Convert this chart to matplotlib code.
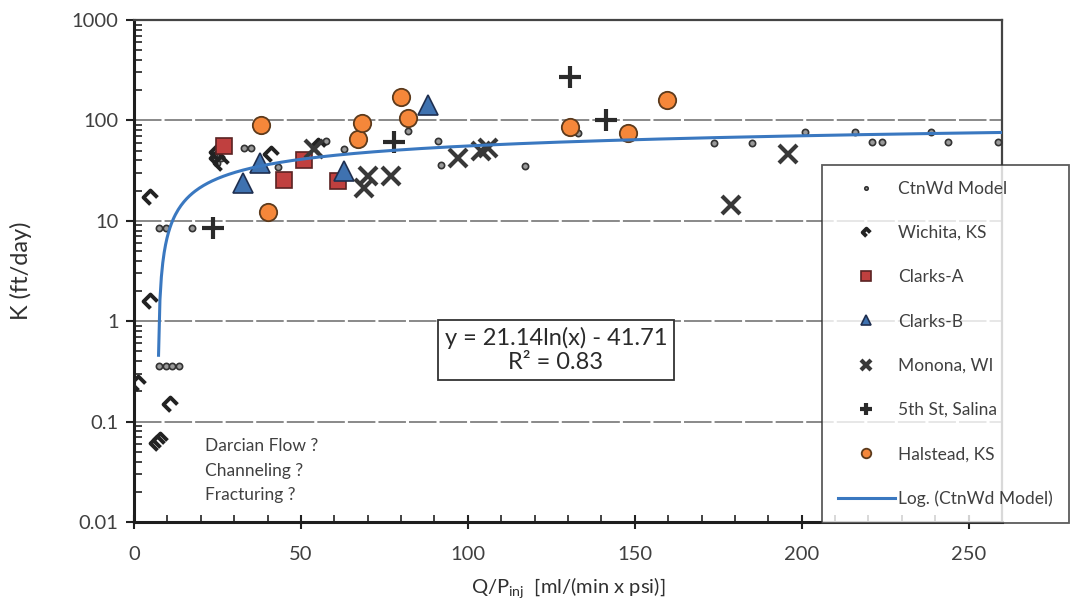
import numpy as np
import matplotlib
matplotlib.use("Agg")
import matplotlib.pyplot as plt
from matplotlib.path import Path
from matplotlib.ticker import FixedLocator, LogLocator, NullFormatter

plt.rcParams['font.family'] = ['Lato', 'DejaVu Sans']

# data (x = Q/P_inj, y = K ft/day)
ctnwd_x = [7.5, 9.5, 11.5, 13.5, 7.5, 9.5, 17.4, 24, 25, 26, 33, 35, 43, 57.5,
           63, 82, 91, 92, 117, 133, 173.6, 185, 201, 216, 221, 224, 238.6, 243.7, 258.7]
ctnwd_y = [0.36, 0.36, 0.36, 0.36, 8.5, 8.5, 8.5, 45, 38, 42, 53, 53, 34, 62,
           52, 78, 62, 36, 35, 75, 59, 59, 76, 76, 61, 61, 76, 61, 61]

wichita_x = [4.8, 4.8, 1.2, 10.8, 7.0, 7.8, 25, 25, 26, 41, 55]
wichita_y = [17.2, 1.6, 0.24, 0.15, 0.061, 0.065, 48, 42, 38, 46, 55]

clarks_a_x = [27, 45, 51, 61]
clarks_a_y = [56, 25.5, 40, 25]

clarks_b_x = [32.7, 37.8, 63, 88]
clarks_b_y = [24, 38, 31, 141]

monona_x = [54, 69, 70, 77, 97, 104, 106, 178.7, 196]
monona_y = [52, 21, 28, 28, 42, 50, 53, 14.3, 46]

salina_x = [23.7, 78, 130.7, 141.5]
salina_y = [8.4, 61, 270, 100]

halstead_x = [38, 40, 67, 68.3, 80, 82, 130.7, 148, 159.8]
halstead_y = [89, 12.2, 66, 94, 170, 105, 86, 75, 158]

# log trendline of the CtnWd model, as printed on the chart
fit_a, fit_b = 21.14, -41.71
fit_x0, fit_x1 = 7.35, 260

x_ticks = [0, 50, 100, 150, 200, 250]
y_ticks = [0.01, 0.1, 1, 10, 100, 1000]
y_labels = ['0.01', '0.1', '1', '10', '100', '1000']

# open bracket marker used for Wichita
bracket = Path([(1, 0), (0, 1), (-1, 0), (0, -1)],
               [Path.MOVETO, Path.LINETO, Path.LINETO, Path.LINETO])

fig = plt.figure(figsize=(10.87, 6.06), dpi=100)
ax = fig.add_axes([134/1087, 1-522/606, 868/1087, 502/606])

ax.set_yscale('log')
ax.set_xlim(0, 260)
ax.set_ylim(0.01, 1000)

ax.yaxis.grid(True, which='major', color='#6a6a6a', lw=1.1, ls=(0, (18, 2)))
ax.set_axisbelow(True)

xs = np.linspace(fit_x0, fit_x1, 600)
ys = fit_a * np.log(xs) + fit_b

ax.plot(ctnwd_x, ctnwd_y, ls='none', marker='o', ms=4.5, mfc='#9a9a9a', mec='#333333',
        mew=1.2, label='CtnWd Model', zorder=3)
ax.plot(wichita_x, wichita_y, ls='none', marker=bracket, ms=10, mfc='none', mec='#222222',
        mew=2.8, label='Wichita, KS', zorder=3)
ax.plot(clarks_a_x, clarks_a_y, ls='none', marker='s', ms=12, mfc='#c0403f', mec='#5a2323',
        mew=1.2, label='Clarks-A', zorder=4)
ax.plot(clarks_b_x, clarks_b_y, ls='none', marker='^', ms=14, mfc='#3f72b0', mec='#1f2f50',
        mew=1.2, label='Clarks-B', zorder=4)
ax.plot(monona_x, monona_y, ls='none', marker='x', ms=13, mec='#383838',
        mew=3, label='Monona, WI', zorder=4)
ax.plot(salina_x, salina_y, ls='none', marker='+', ms=16, mec='#2a2a2a',
        mew=3, label='5th St, Salina', zorder=4)
ax.plot(halstead_x, halstead_y, ls='none', marker='o', ms=12.5, mfc='#f5873a', mec='#5c3a1c',
        mew=1.3, label='Halstead, KS', zorder=4)
ax.plot(xs, ys, color='#3a78c0', lw=2.2, label='Log. (CtnWd Model)', zorder=5)

ax.xaxis.set_major_locator(FixedLocator(x_ticks))
ax.xaxis.set_minor_locator(FixedLocator(np.arange(0, 251, 10)))
ax.yaxis.set_major_locator(FixedLocator(y_ticks))
ax.set_yticklabels(y_labels)
ax.yaxis.set_minor_locator(LogLocator(base=10, subs=np.arange(2, 10)))
ax.yaxis.set_minor_formatter(NullFormatter())

ax.tick_params(axis='both', which='major', labelsize=14.5, labelcolor='#404040',
               color='#222222', width=1.5)
ax.tick_params(axis='x', which='major', direction='inout', length=10, pad=12)
ax.tick_params(axis='x', which='minor', direction='in', length=5, width=1.2, color='#222222')
ax.tick_params(axis='y', which='major', direction='out', length=6, pad=5)
ax.tick_params(axis='y', which='minor', direction='in', length=6, width=1.2, color='#222222')

for side in ['left', 'bottom']:
    ax.spines[side].set_linewidth(2.2)
    ax.spines[side].set_color('#1e1e1e')
for side in ['top', 'right']:
    ax.spines[side].set_linewidth(1.6)
    ax.spines[side].set_color('#444444')

ax.set_ylabel('K (ft/day)', fontsize=17, color='#303030')
ax.yaxis.set_label_coords(-0.118, 0.5)
ax.set_xlabel(r'Q/P$_{\mathregular{inj}}$  [ml/(min x psi)]', fontsize=14.5, color='#303030')
ax.xaxis.set_label_coords(0.5, -0.108)

ax.text(0.486, 0.343, 'y = 21.14ln(x) - 41.71\nR² = 0.83', transform=ax.transAxes,
        ha='center', va='center', fontsize=17, color='#2a2a2a', linespacing=1.15,
        bbox=dict(boxstyle='square,pad=0.3', fc='white', ec='#333333', lw=1.3), zorder=6)

ax.text(0.082, 0.167, 'Darcian Flow ?\nChanneling ?\nFracturing ?', transform=ax.transAxes,
        ha='left', va='top', fontsize=12.5, color='#404040', linespacing=1.65)

leg = ax.legend(loc='upper left', bbox_to_anchor=(822/1087, 1-165/606),
                bbox_transform=fig.transFigure, fontsize=12.5, frameon=True, fancybox=False,
                edgecolor='#333333', labelspacing=1.63, handlelength=3.3, handletextpad=0.2,
                borderpad=0.9, markerscale=0.55, borderaxespad=0)
leg.get_frame().set_linewidth(1.3)
for t in leg.get_texts():
    t.set_color('#404040')

plt.savefig('out.png', dpi=100)
